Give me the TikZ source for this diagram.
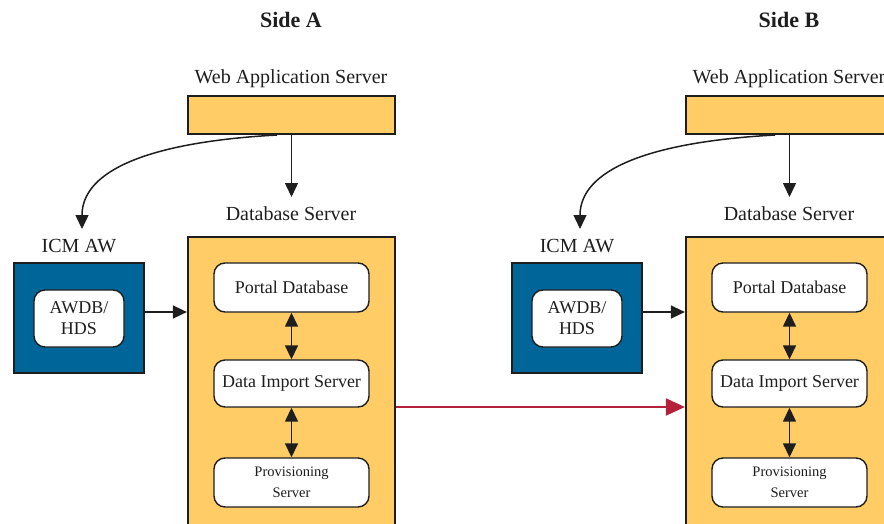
\documentclass[tikz,border=0pt]{standalone}
\usepackage{fontspec}
\setmainfont{Liberation Serif}
\usetikzlibrary{arrows.meta,calc}
\definecolor{ygold}{HTML}{FFCC66}
\definecolor{awblue}{HTML}{006699}
\definecolor{ink}{HTML}{1E1E1E}
\definecolor{linkred}{HTML}{B5213A}
\tikzset{
  lbl/.style={font=\fontsize{20}{22}\selectfont, text=ink, inner sep=0pt},
  ttl/.style={font=\fontsize{22}{24}\selectfont\bfseries, text=ink, inner sep=0pt},
  ybox/.style={draw=ink, line width=2.2pt, fill=ygold, inner sep=0pt},
  bbox/.style={draw=ink, line width=2.2pt, fill=awblue, inner sep=0pt, minimum width=130pt, minimum height=110pt},
  rbox/.style={draw=ink, line width=1.4pt, fill=white, rounded corners=11pt, inner sep=0pt, align=center, text=ink,
               minimum width=155pt},
  arr/.style={draw=ink, line width=1.5pt, -{Triangle[length=14pt,width=13pt]}},
  darr/.style={draw=ink, line width=1.5pt, {Triangle[length=14pt,width=13pt]}-{Triangle[length=14pt,width=13pt]}},
  redarr/.style={draw=linkred, line width=2pt, -{Triangle[length=19pt,width=17pt]}},
}
\begin{document}
\begin{tikzpicture}[x=1pt,y=-1pt]
\useasboundingbox (0,0) rectangle (884,523);
\clip (0,0) rectangle (884,523);
\foreach \s/\dx/\t in {A/0/Side A,B/498/Side B}{
  \begin{scope}[xshift=\dx pt]
    \node[ttl] (title\s) at (291,20) {\t};
    \node[lbl] (wlab\s) at (291,79) {Web Application Server};
    \node[ybox, minimum width=207pt, minimum height=38pt] (w\s) at (291.5,115) {};
    \node[lbl] (dlab\s) at (291,214) {Database Server};
    \node[ybox, minimum width=207pt, minimum height=320pt] (d\s) at (291.5,397) {};
    \node[lbl] (icmlab\s) at (79,246) {ICM AW};
    \node[bbox] (icm\s) at (79,318) {};
    \node[rbox, minimum width=90pt, minimum height=57pt, font=\fontsize{18}{21}\selectfont] (awdb\s) at (79,318.5) {AWDB/\\HDS};
    \node[rbox, minimum height=49pt, font=\fontsize{18}{20}\selectfont] (portal\s) at (291.5,287.5) {Portal Database};
    \node[rbox, minimum height=47pt, font=\fontsize{18}{20}\selectfont] (dimp\s) at (291.5,383.5) {Data Import Server};
    \node[rbox, minimum height=49pt, font=\fontsize{14.5}{21}\selectfont] (prov\s) at (291.5,482.5) {Provisioning\\Server};
    \coordinate (cs\s) at (277,135);
    \coordinate (ce\s) at (82,229);
    \coordinate (aw\s) at (144,312);
    \draw[arr] (w\s.south) -- (291.5,197);
    \draw[arr] (cs\s) .. controls (150,142) and (82,170) .. (ce\s);
    \draw[arr] (aw\s) -- (d\s.west |- aw\s);
    \draw[darr] (portal\s.south) -- (dimp\s.north);
    \draw[darr] (dimp\s.south) -- (prov\s.north);
  \end{scope}
}
\coordinate (rA) at (395,407);
\draw[redarr] (dA.east |- rA) -- (dB.west |- rA);
\end{tikzpicture}
\end{document}
